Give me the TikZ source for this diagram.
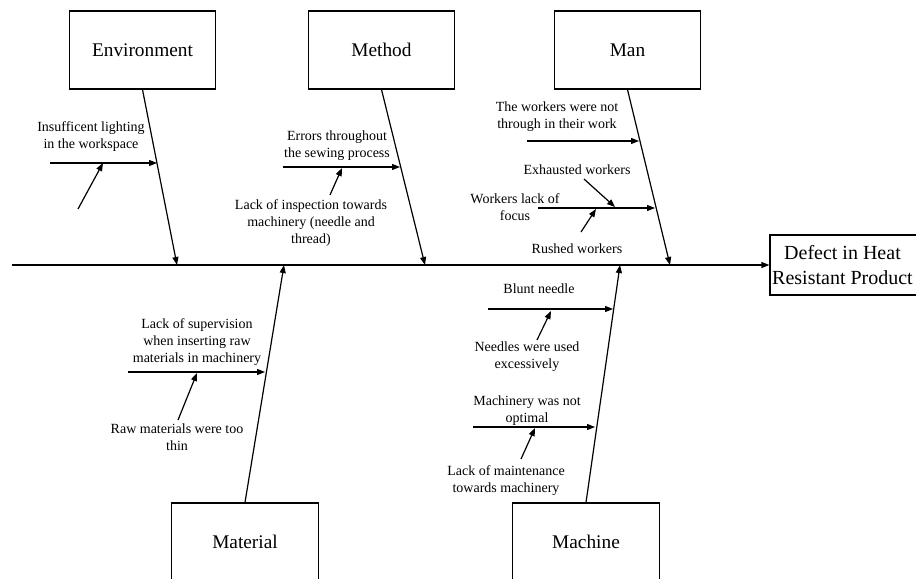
\documentclass[tikz,border=0pt]{standalone}
\usepackage{fontspec}
\setmainfont{Liberation Serif}
\usetikzlibrary{arrows.meta}
\begin{document}
\begin{tikzpicture}[x=0.75pt,y=-0.75pt,
  catbox/.style={draw, line width=0.9pt, minimum width=110pt, minimum height=58.5pt, inner sep=0pt, font=\fontsize{14.5}{17}\selectfont},
  effbox/.style={draw, line width=0.9pt, minimum width=112.5pt, minimum height=45pt, inner sep=0pt},
  efftext/.style={align=center, inner sep=0pt, font=\fontsize{15}{19}\selectfont},
  lbl/.style={align=center, inner sep=0pt, font=\fontsize{10.5}{12.75}\selectfont},
  arr/.style={line width=0.9pt, -{Triangle[length=6pt,width=4.5pt]}}]
\useasboundingbox (0,0) rectangle (916,578);
\clip (0,0) rectangle (916,578);
\fill[white] (0,0) rectangle (916,578);

% category boxes
\node[catbox] (envbox) at (142.5,50) {Environment};
\node[catbox] (metbox) at (381.5,50) {Method};
\node[catbox] (manbox) at (627.5,50) {Man};
\node[catbox] (matbox) at (245,542) {Material};
\node[catbox] (macbox) at (586,542) {Machine};
\node[effbox] (defect) at (845,265) {};
\node[efftext] (defectText) at (842.5,265) {Defect in Heat\\Resistant Product};

% spine
\coordinate (spineStart) at (12,265);
\draw[arr] (spineStart) -- (defect.west);

% bone tips on spine
\coordinate (envTip) at (177,265);
\coordinate (metTip) at (425,265);
\coordinate (manTip) at (670,265);
\coordinate (matTip) at (284,265);
\coordinate (macTip) at (620,265);
\draw[arr] (envbox.south) -- (envTip);
\draw[arr] (metbox.south) -- (metTip);
\draw[arr] (manbox.south) -- (manTip);
\draw[arr] (matbox.north) -- (matTip);
\draw[arr] (macbox.north) -- (macTip);

% labels
\node[lbl] (envL) at (91,137) {Insufficent lighting\\in the workspace};
\node[lbl] (metL1) at (337,146) {Errors throughout\\the sewing process};
\node[lbl] (metL2) at (311,223) {Lack of inspection towards\\machinery (needle and\\thread)};
\node[lbl] (manL1) at (557,117) {The workers were not\\through in their work};
\node[lbl] (manL2) at (515,207.5) {Workers lack of\\focus};
\node[lbl] (manL3) at (577,170) {Exhausted workers};
\node[lbl] (manL4) at (577,249) {Rushed workers};
\node[lbl] (matL1) at (197,342) {Lack of supervision\\when inserting raw\\materials in machinery};
\node[lbl] (matL2) at (177,437.5) {Raw materials were too\\thin};
\node[lbl] (macL1) at (539,289) {Blunt needle};
\node[lbl] (macL2) at (527,356.5) {Needles were used\\excessively};
\node[lbl] (macL3) at (527,410.5) {Machinery was not\\optimal};
\node[lbl] (macL4) at (506,481) {Lack of maintenance\\towards machinery};

% Environment causes
\coordinate (e1s) at (50,163);   \coordinate (e1e) at (157,163);
\coordinate (e2s) at (78,209);   \coordinate (e2e) at (103,163);
\draw[arr] (e1s) -- (e1e);
\draw[arr] (e2s) -- (e2e);

% Method causes
\coordinate (m1s) at (283,167);  \coordinate (m1e) at (400,167);
\coordinate (m2s) at (330,195);  \coordinate (m2e) at (342,168);
\draw[arr] (m1s) -- (m1e);
\draw[arr] (m2s) -- (m2e);

% Man causes
\coordinate (n1s) at (527,141);  \coordinate (n1e) at (639,141);
\coordinate (n2s) at (538,208);  \coordinate (n2e) at (655,208);
\coordinate (n3s) at (584,179);  \coordinate (n3e) at (615,207);
\coordinate (n4s) at (581,232);  \coordinate (n4e) at (596,209);
\draw[arr] (n1s) -- (n1e);
\draw[arr] (n2s) -- (n2e);
\draw[arr] (n3s) -- (n3e);
\draw[arr] (n4s) -- (n4e);

% Material causes
\coordinate (t1s) at (128,372);  \coordinate (t1e) at (265,372);
\coordinate (t2s) at (178,420);  \coordinate (t2e) at (197,373);
\draw[arr] (t1s) -- (t1e);
\draw[arr] (t2s) -- (t2e);

% Machine causes
\coordinate (c1s) at (488,309);  \coordinate (c1e) at (613,309);
\coordinate (c2s) at (537,340);  \coordinate (c2e) at (551,311);
\coordinate (c3s) at (473,427);  \coordinate (c3e) at (595,427);
\coordinate (c4s) at (521,459);  \coordinate (c4e) at (535,428);
\draw[arr] (c1s) -- (c1e);
\draw[arr] (c2s) -- (c2e);
\draw[arr] (c3s) -- (c3e);
\draw[arr] (c4s) -- (c4e);
\end{tikzpicture}
\end{document}
